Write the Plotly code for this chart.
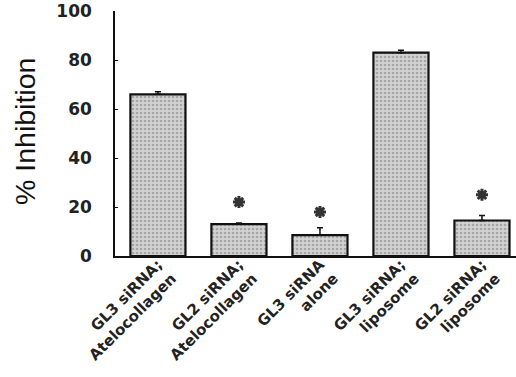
import plotly.graph_objects as go

categories = ["GL3 siRNA;<br>Atelocollagen", "GL2 siRNA;<br>Atelocollagen", "GL3 siRNA<br>alone",
              "GL3 siRNA;<br>liposome", "GL2 siRNA;<br>liposome"]
inhibition = [66, 13, 8.5, 83, 14.5]
error_up = [1, 0.5, 3, 1, 2]
star_cats = [categories[1], categories[2], categories[4]]
star_y = [22, 18, 25]
y_ticks = [0, 20, 40, 60, 80, 100]

fig = go.Figure()
fig.add_trace(go.Bar(
    x=categories, y=inhibition, width=0.68,
    marker=dict(color="#c8c8c8", line=dict(color="#111", width=2.2),
                pattern=dict(shape=".", fgcolor="#7a7a7a", bgcolor="#d2d2d2", size=4, solidity=0.35)),
    error_y=dict(type="data", symmetric=False, array=error_up, arrayminus=[0]*5,
                 color="#111", thickness=1.5, width=3),
    showlegend=False))
fig.add_trace(go.Scatter(
    x=star_cats, y=star_y, mode="markers",
    marker=dict(symbol="asterisk-open", size=10, color="#333", line=dict(color="#333", width=3)),
    showlegend=False))

fig.add_annotation(text="% Inhibition", xref="paper", yref="paper",
                   x=(25 - 115) / 401, y=(256 - 132) / 245, textangle=-90, showarrow=False,
                   xanchor="center", yanchor="middle",
                   font=dict(family="Liberation Sans", size=28.5, color="#111"))

fig.update_layout(
    width=516, height=377, margin=dict(l=115, r=0, t=11, b=121, autoexpand=False),
    plot_bgcolor="white", paper_bgcolor="white", bargap=0.3,
    xaxis=dict(range=[-0.53, 4.42], showline=True, linecolor="#111", linewidth=2,
               ticks="", tickangle=-45, automargin=False, ticklabelstandoff=-8,
               tickfont=dict(family="DejaVu Sans", size=15, color="#222", weight="bold")),
    yaxis=dict(range=[0, 100], tickvals=y_ticks, showline=True, linecolor="#111", linewidth=1.5,
               ticks="inside", ticklen=3, tickcolor="#111", showgrid=False, zeroline=False,
               automargin=False, ticklabeloverflow="allow",
               tickfont=dict(family="DejaVu Sans", size=17, color="#222", weight="bold"),
               ticklabelstandoff=18),
)
fig.write_html("out.html", config={"displayModeBar": False},
               post_script="document.body.style.margin='0';")
